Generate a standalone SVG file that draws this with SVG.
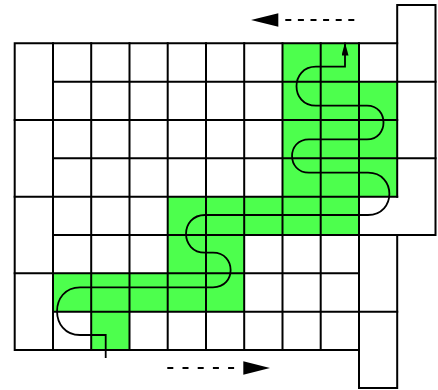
<svg xmlns="http://www.w3.org/2000/svg" width="438" height="390" viewBox="0 0 438 390">
  <style>
    .fill { fill: #4dff4d; stroke: none; }
    .grid { fill: none; stroke: #000; stroke-width: 2; stroke-linecap: square; }
    .snake { fill: none; stroke: #000; stroke-width: 1.8; }
    .dash { stroke: #000; stroke-width: 2; fill: none; }
    .head { fill: #000; stroke: none; }
  </style>
  <defs>
    <marker id="tip" viewBox="0 0 13 7" refX="13" refY="3.5" markerWidth="13" markerHeight="7" markerUnits="userSpaceOnUse" orient="auto">
      <path d="M0,0 L13,3.5 L0,7 Z" fill="#000"/>
    </marker>
  </defs>

  <g id="green-region">
    <polygon class="fill" points="282.5,43.3 359,43.3 359,81.7 397.2,81.7 397.2,196.7 359,196.7 359,234.9 244.2,234.9 244.2,311.7 129.5,311.7 129.5,350 91.2,350 91.2,311.7 53,311.7 53,273.3 167.7,273.3 167.7,196.7 282.5,196.7"/>
  </g>

  <g id="grid">
    <path class="grid" d="M14.7,43.3 H397.2 V5 H435.5 V234.9 H397.2 V388 H359 V350 H14.7 Z"/>
    <path class="grid" d="M53,81.7 H435.5 M14.7,120 H397.2 M53,158.3 H435.5 M14.7,196.7 H397.2 M53,234.9 H397.2 M14.7,273.3 H359 M53,311.7 H397.2"/>
    <path class="grid" d="M53,43.3 V350 M91.2,43.3 V350 M129.5,43.3 V350 M167.7,43.3 V350 M206,43.3 V350 M244.2,43.3 V350 M282.5,43.3 V350 M320.7,43.3 V350 M359,43.3 V350 M397.2,43.3 V196.7"/>
  </g>

  <g id="connectors">
    <path class="snake" marker-end="url(#tip)" d="M105.7,358 V335 H80 C49.4,335 49.4,287.3 80,287.3 H213 C236.5,287.3 236.5,252.7 213,252.7 H205 C179.7,252.7 179.7,215 205,215 H368 C396.5,215 396.5,172.7 368,172.7 H309 C286.4,172.7 286.4,139.3 309,139.3 H367 C389,139.3 389,105.7 367,105.7 H316 C290,105.7 290,66.7 316,66.7 H345 V42.5"/>
    <line class="dash" x1="354.3" y1="20" x2="285" y2="20" stroke-dasharray="6 6.6"/>
    <polygon class="head" points="251,20 278.3,13.3 278.3,26.7"/>
    <line class="dash" x1="167.3" y1="368" x2="234.3" y2="368" stroke-dasharray="6 9.2"/>
    <polygon class="head" points="270,368 243.3,361.3 243.3,374.7"/>
  </g>
</svg>
